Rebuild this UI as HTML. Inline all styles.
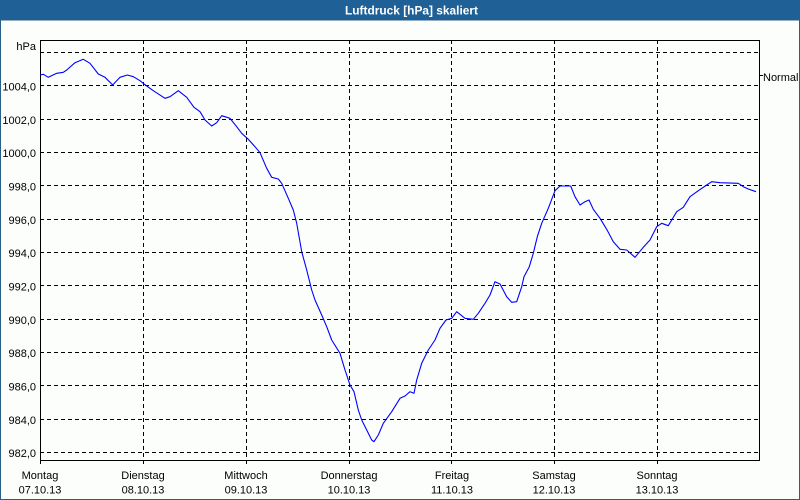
<!DOCTYPE html>
<html><head><meta charset="utf-8"><style>
html,body{margin:0;padding:0;background:#fff;}
svg{display:block;}
text{font-family:"Liberation Sans",sans-serif;}
</style></head><body>
<svg width="800" height="500" viewBox="0 0 800 500" xmlns="http://www.w3.org/2000/svg">
<rect x="0" y="0" width="800" height="500" fill="#fcfefc"/>
<rect x="0" y="0" width="800" height="20" fill="#1f6096"/>
<text x="345" y="14.5" font-size="11.5" font-weight="bold" fill="#ffffff" textLength="133" lengthAdjust="spacingAndGlyphs">Luftdruck [hPa] skaliert</text>
<rect x="0.5" y="20" width="799" height="479.5" fill="none" stroke="#2a5d8a" stroke-width="1"/>
<g stroke="#000" stroke-width="1" stroke-dasharray="4 3" shape-rendering="crispEdges" fill="none">
<line x1="40" y1="52.5" x2="760" y2="52.5"/>
<line x1="40" y1="85.5" x2="760" y2="85.5"/>
<line x1="40" y1="119.5" x2="760" y2="119.5"/>
<line x1="40" y1="152.5" x2="760" y2="152.5"/>
<line x1="40" y1="185.5" x2="760" y2="185.5"/>
<line x1="40" y1="219.5" x2="760" y2="219.5"/>
<line x1="40" y1="252.5" x2="760" y2="252.5"/>
<line x1="40" y1="285.5" x2="760" y2="285.5"/>
<line x1="40" y1="319.5" x2="760" y2="319.5"/>
<line x1="40" y1="352.5" x2="760" y2="352.5"/>
<line x1="40" y1="385.5" x2="760" y2="385.5"/>
<line x1="40" y1="419.5" x2="760" y2="419.5"/>
<line x1="40" y1="452.5" x2="760" y2="452.5"/>
<line x1="143.5" y1="40" x2="143.5" y2="460"/>
<line x1="246.5" y1="40" x2="246.5" y2="460"/>
<line x1="349.5" y1="40" x2="349.5" y2="460"/>
<line x1="451.5" y1="40" x2="451.5" y2="460"/>
<line x1="554.5" y1="40" x2="554.5" y2="460"/>
<line x1="657.5" y1="40" x2="657.5" y2="460"/>
</g>
<g stroke="#000" stroke-width="1" shape-rendering="crispEdges" fill="none">
<rect x="40.5" y="40.5" width="719" height="420"/>
<line x1="40.5" y1="460" x2="40.5" y2="464"/>
<line x1="143.5" y1="460" x2="143.5" y2="464"/>
<line x1="246.5" y1="460" x2="246.5" y2="464"/>
<line x1="349.5" y1="460" x2="349.5" y2="464"/>
<line x1="451.5" y1="460" x2="451.5" y2="464"/>
<line x1="554.5" y1="460" x2="554.5" y2="464"/>
<line x1="657.5" y1="460" x2="657.5" y2="464"/>
<line x1="760" y1="75.5" x2="763" y2="75.5"/>
</g>
<g font-size="11" fill="#000" text-anchor="end">
<text x="36" y="50">hPa</text>
<text x="36" y="90.5">1004,0</text>
<text x="36" y="124">1002,0</text>
<text x="36" y="157">1000,0</text>
<text x="36" y="190.5">998,0</text>
<text x="36" y="224">996,0</text>
<text x="36" y="257">994,0</text>
<text x="36" y="290.5">992,0</text>
<text x="36" y="324">990,0</text>
<text x="36" y="357">988,0</text>
<text x="36" y="390.5">986,0</text>
<text x="36" y="424">984,0</text>
<text x="36" y="457">982,0</text>
</g>
<text x="763" y="81" font-size="11" fill="#000">Normal</text>
<g font-size="11" fill="#000" text-anchor="middle">
<text x="40" y="479">Montag</text><text x="40" y="493.5">07.10.13</text>
<text x="143" y="479">Dienstag</text><text x="143" y="493.5">08.10.13</text>
<text x="246" y="479">Mittwoch</text><text x="246" y="493.5">09.10.13</text>
<text x="349" y="479">Donnerstag</text><text x="349" y="493.5">10.10.13</text>
<text x="452" y="479">Freitag</text><text x="452" y="493.5">11.10.13</text>
<text x="554" y="479">Samstag</text><text x="554" y="493.5">12.10.13</text>
<text x="657" y="479">Sonntag</text><text x="657" y="493.5">13.10.13</text>
</g>
<polyline fill="none" stroke="#0000ff" stroke-width="1.1" stroke-linejoin="round" points="40,75 43.3,74.3 48.3,77.3 56.7,73.3 63.3,72.3 66.7,70 75,62.7 83.3,59.3 90,63.3 98.3,74 105,77.3 112.7,85 120,77.3 127.3,75 133.3,76.7 140,80.7 144,84 153.3,90.7 165,98.3 170,96.7 178.3,90.7 186.7,97.3 194,107.3 200,111.7 205,120 211.7,126 216.7,122.7 221.7,115.7 230,118.3 236.7,126.7 241.7,133.3 248.3,139.3 255,146.7 260,152.7 266.7,168.3 271.7,177.3 278.3,179 281.7,183.3 288.3,198.3 293.3,210 296.7,223.3 301.7,251.7 306.7,270 311.7,290 315,300 321.7,315 326.7,326.7 331.7,340 340,353.3 345,370 350,385 354,391.7 358.3,410 361.7,420 366.7,430 371.7,440 374,441.7 378.3,435 383.3,423.3 391.7,411.7 400,398.3 405,396 410,391.7 414,393.3 416.7,380 421.7,363.3 428.3,350 435,340 440,328.3 446,320 451.7,318.3 456.7,311.7 465,318.3 473.3,319.3 478.3,313.3 485,303.3 490,295 495,281.7 500,284 506.7,296.7 511.7,302.3 516.7,301.7 521.7,286.7 524,276.7 529.3,266.7 533.3,253.3 537.3,236.7 541.7,223.3 548.3,208.3 555,190.7 560,186 570.7,186 575,196.7 580,205 585,201.7 589,200 593.3,209.3 600,218.3 606.7,229.3 613.3,241.7 620,249.3 626.7,250 635,257.3 643.3,247.3 650,240 656.7,226.7 661.7,223.3 668.3,225.7 671.7,220 676.7,211.7 683.3,207.3 690,196.7 698.3,190.7 706.7,185 711.7,181.7 720,182.7 738.3,183.3 743.3,186.7 748.3,189 756,191.7"/>
</svg>
</body></html>
